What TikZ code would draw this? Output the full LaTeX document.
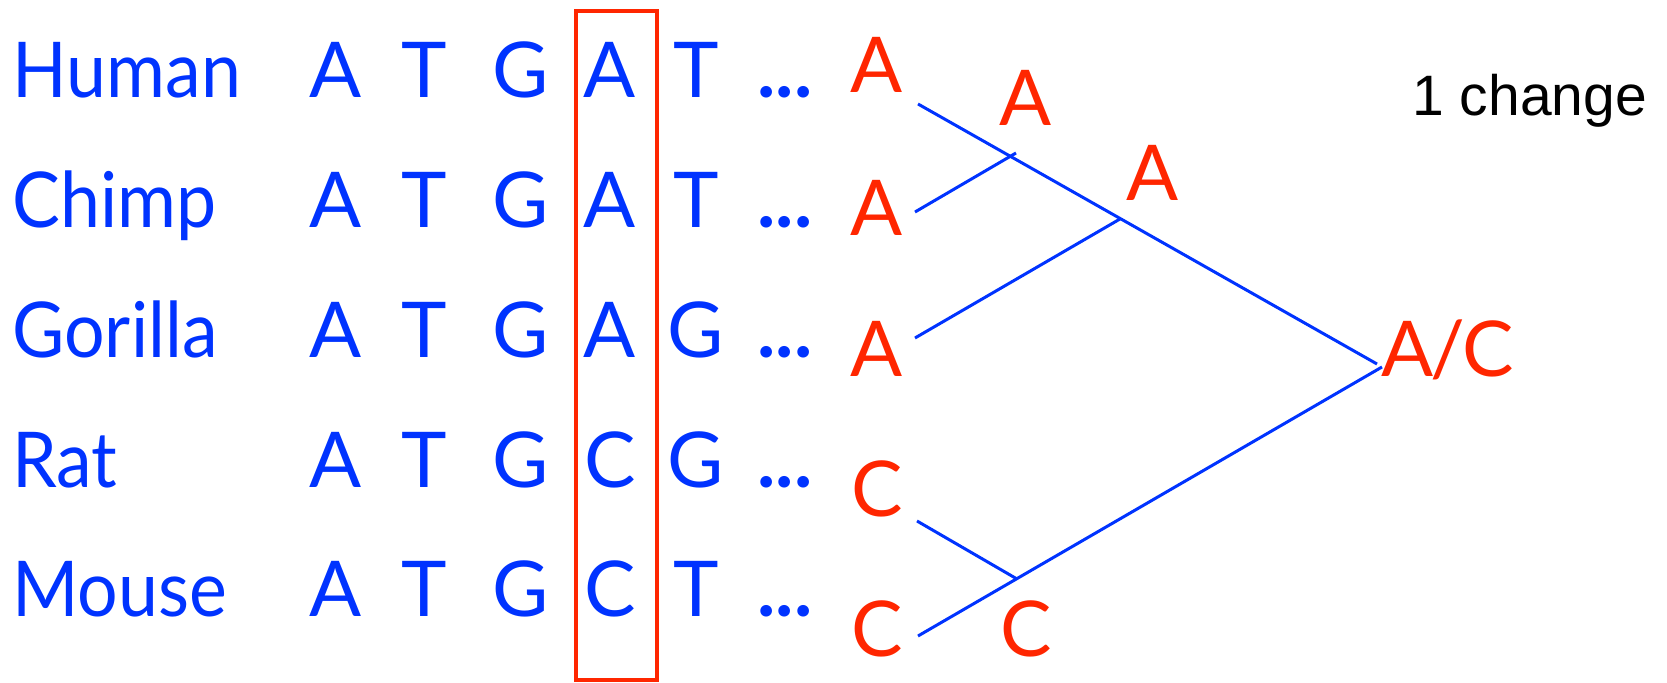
\documentclass[tikz,border=0pt]{standalone}
\usepackage{fontspec}
\setmainfont{Lato}
\newfontfamily\specfont[FakeStretch=0.93]{Lato}
\newfontfamily\helv{Liberation Sans}
\definecolor{seqblue}{RGB}{0,51,255}
\definecolor{statered}{RGB}{255,38,0}
\begin{document}
\begin{tikzpicture}[x=0.5pt,y=-0.5pt,
  seq/.style={text=seqblue,font=\fontsize{38.5}{40}\selectfont,inner sep=0pt,anchor=base},
  species/.style={seq,anchor=base west,font=\specfont\fontsize{38.5}{40}\selectfont},
  state/.style={text=statered,font=\fontsize{38.5}{40}\selectfont,inner sep=0pt,anchor=base},
  branch/.style={draw=seqblue,line width=1.5pt},
  column/.style={draw=statered,line width=2.4pt}]
\useasboundingbox (0,0) rectangle (1667,683);

% species names
\foreach \name/\y/\lab in {hu/98/Human,ch/228/Chimp,go/358/Gorilla,ra/488/Rat,mo/617/Mouse}
  \node[species] (\name) at (12,\y) {\lab};

% aligned sequences
\foreach \r/\y/\a/\b/\c/\d/\e in {1/98/A/T/G/A/T,2/228/A/T/G/A/T,3/358/A/T/G/A/G,4/488/A/T/G/C/G,5/617/A/T/G/C/T}{
  \node[seq] (s\r a) at (336,\y) {\a};
  \node[seq] (s\r b) at (424,\y) {\b};
  \node[seq] (s\r c) at (521,\y) {\c};
  \node[seq] (s\r d) at (610,\y) {\d};
  \node[seq] (s\r e) at (696,\y) {\e};
  \node[seq] (s\r f) at (785,\y) {\bfseries ...};
}

% highlighted column
\draw[column] (576,11) rectangle (657,680);

% character states at leaves and internal nodes
\node[state] (lA1) at (877,93) {A};
\node[state] (lA2) at (877,236) {A};
\node[state] (lA3) at (877,377) {A};
\node[state] (lC1) at (877,517) {C};
\node[state] (lC2) at (877,657) {C};
\node[state] (iA1) at (1026,126) {A};
\node[state] (iA2) at (1153,201) {A};
\node[state] (iC) at (1026,657) {C};
\node[state,anchor=base west] (rt) at (1381,377) {A\kern-1.5pt/\kern-1.5pt C};

\node[inner sep=0pt,anchor=base west,font=\helv\fontsize{28.5}{30}\selectfont] (chg) at (1412,116) {1 change};

% tree branches
\coordinate (eA1) at (918,104);
\coordinate (eA2) at (915,212);
\coordinate (eA3) at (915,338);
\coordinate (eC1) at (917,521);
\coordinate (eC2) at (918,636);
\coordinate (jHC) at (1016,153);
\coordinate (jHCG) at (1120,219);
\coordinate (jRM) at (1017,579);
\coordinate (r1) at (1377,364);
\coordinate (r2) at (1382,367);

\draw[branch] (eA1) -- (r1);
\draw[branch] (eA2) -- (jHC);
\draw[branch] (eA3) -- (jHCG);
\draw[branch] (eC1) -- (jRM);
\draw[branch] (eC2) -- (r2);
\end{tikzpicture}
\end{document}
